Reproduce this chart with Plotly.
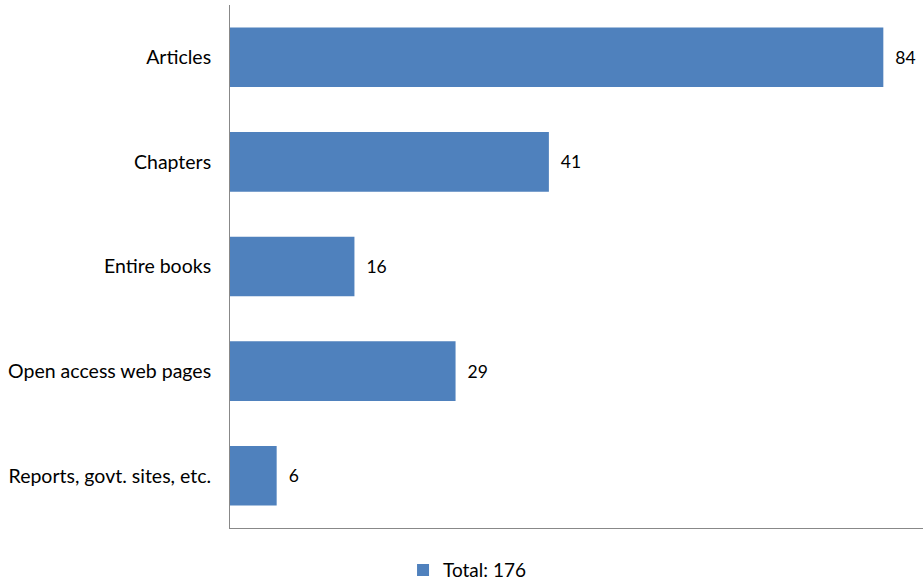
import plotly.graph_objects as go

categories = ["Articles", "Chapters", "Entire books", "Open access web pages", "Reports, govt. sites, etc."]
counts = [84, 41, 16, 29, 6]
series_name = "Total: 176"

fig = go.Figure(
    go.Bar(
        y=categories,
        x=counts,
        orientation="h",
        name=series_name,
        marker=dict(color="#4F81BD", line=dict(width=0)),
        width=0.57,
        text=[f"  {v}" for v in counts],
        textposition="outside",
        textfont=dict(size=17.5, color="#000000"),
        cliponaxis=False,
        showlegend=True,
    )
)

fig.update_layout(
    width=923,
    height=580,
    margin=dict(l=230, r=0, t=5, b=52),
    plot_bgcolor="white",
    paper_bgcolor="white",
    font=dict(family="Lato, Open Sans, sans-serif", size=19, color="#000000"),
    bargap=0.43,
    legend=dict(
        orientation="h",
        xref="container",
        yref="container",
        x=0.506,
        y=0.017,
        xanchor="center",
        yanchor="middle",
        font=dict(size=19),
        itemwidth=30,
    ),
)

fig.update_yaxes(
    autorange="reversed",
    showline=True,
    linecolor="#888888",
    linewidth=1,
    showgrid=False,
    ticks="",
    ticklabelstandoff=14,
    tickfont=dict(size=19.5),
)
fig.update_xaxes(
    range=[0, 89.1],
    showline=True,
    linecolor="#888888",
    linewidth=1,
    showgrid=False,
    zeroline=False,
    showticklabels=False,
    ticks="",
)

fig.write_html("out.html")
